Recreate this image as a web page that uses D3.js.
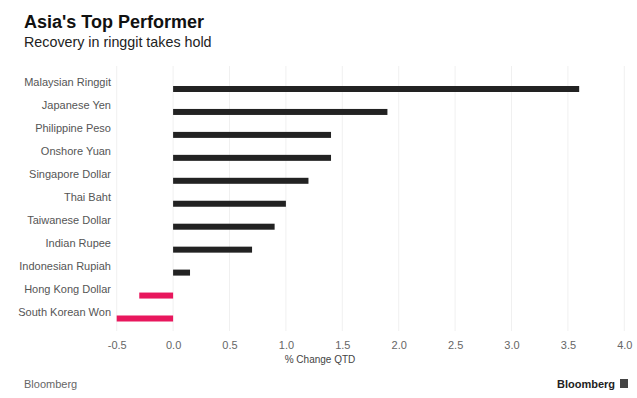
<!DOCTYPE html>
<html>
  <head>
    <meta charset="utf-8">
    <title>Asia's Top Performer</title>
    <style>
      body { margin: 0; background: #fff; }
      text { font-family: "Helvetica Neue", "Liberation Sans", Arial, sans-serif; }
    </style>
  </head>
  <body>
    <div id="container"></div>
    <script src="https://cdn.jsdelivr.net/npm/d3@7"></script>
    <script>
      var currencies = ["Malaysian Ringgit", "Japanese Yen", "Philippine Peso", "Onshore Yuan",
        "Singapore Dollar", "Thai Baht", "Taiwanese Dollar", "Indian Rupee",
        "Indonesian Rupiah", "Hong Kong Dollar", "South Korean Won"];
      var changeQTD = [3.6, 1.9, 1.4, 1.4, 1.2, 1.0, 0.9, 0.7, 0.15, -0.3, -0.5];
      var xTicks = [-0.5, 0, 0.5, 1, 1.5, 2, 2.5, 3, 3.5, 4];

      var width = 637, height = 398;
      var svg = d3.select("#container").append("svg")
        .attr("width", width)
        .attr("height", height);

      var x = d3.scaleLinear().domain([-0.5, 4]).range([116.7, 624.3]);
      var y = d3.scalePoint().domain(currencies).range([89, 318.5]);

      // title
      svg.append("text").attr("x", 24).attr("y", 28)
        .attr("font-size", 18).attr("font-weight", "bold").attr("fill", "#111")
        .text("Asia's Top Performer");
      svg.append("text").attr("x", 24).attr("y", 47)
        .attr("font-size", 14.3).attr("fill", "#222")
        .text("Recovery in ringgit takes hold");

      // grid
      svg.selectAll(".grid")
          .data(xTicks)
        .enter().append("line")
          .attr("x1", function(d) { return x(d); })
          .attr("x2", function(d) { return x(d); })
          .attr("y1", 66)
          .attr("y2", 331)
          .attr("stroke", "#f0f0f0")
          .attr("stroke-width", 1);

      // bars
      svg.selectAll(".bar")
          .data(changeQTD)
        .enter().append("rect")
          .attr("x", function(d) { return x(Math.min(0, d)); })
          .attr("y", function(d, i) { return y(currencies[i]) - 3; })
          .attr("width", function(d) { return Math.abs(x(d) - x(0)); })
          .attr("height", 6)
          .attr("fill", function(d) { return d < 0 ? "#e8175d" : "#222"; });

      // category labels
      svg.selectAll(".label")
          .data(currencies)
        .enter().append("text")
          .attr("x", 111)
          .attr("y", function(d) { return y(d) - 3; })
          .attr("text-anchor", "end")
          .attr("font-size", 11)
          .attr("fill", "#555")
          .text(function(d) { return d; });

      // x axis
      var axis = svg.append("g")
        .attr("transform", "translate(0,349)")
        .call(d3.axisBottom(x).tickValues(xTicks).tickSize(0).tickPadding(0)
          .tickFormat(function(d) { return d.toFixed(1); }));
      axis.select(".domain").remove();
      axis.selectAll("text")
        .attr("dy", 0)
        .attr("font-size", 11)
        .attr("fill", "#666")
        .style("font-family", "\"Liberation Sans\", Arial, sans-serif");

      svg.append("text").attr("x", 320).attr("y", 363)
        .attr("text-anchor", "middle").attr("font-size", 10).attr("fill", "#444")
        .text("% Change QTD");

      // footer
      svg.append("text").attr("x", 24).attr("y", 388)
        .attr("font-size", 11).attr("fill", "#666")
        .text("Bloomberg");
      svg.append("text").attr("x", 615).attr("y", 388)
        .attr("text-anchor", "end").attr("font-size", 11)
        .attr("font-weight", "bold").attr("fill", "#222")
        .text("Bloomberg");
      svg.append("rect").attr("x", 620).attr("y", 379)
        .attr("width", 8).attr("height", 9).attr("fill", "#444");
    </script>
  </body>
</html>
